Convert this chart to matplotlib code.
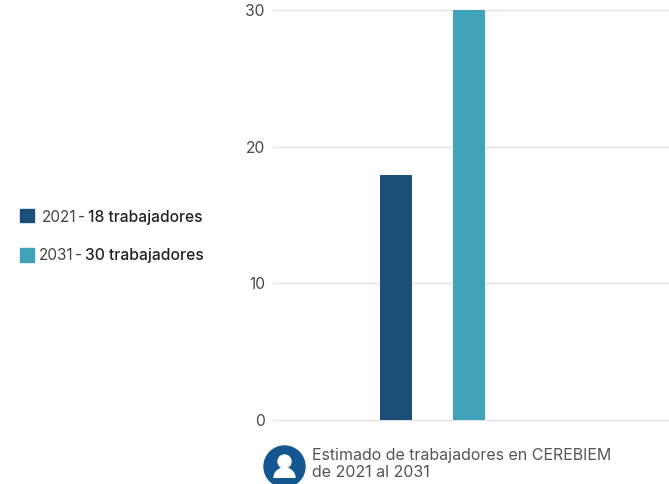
import matplotlib
matplotlib.use("Agg")
import matplotlib.pyplot as plt
from matplotlib.patches import Circle, Rectangle, Ellipse

categories = ["2021", "2031"]
trabajadores = [17.9, 30]
bar_colors = ["#1C4E7A", "#3FA2B8"]
y_ticks = [0, 10, 20, 30]
caption = "Estimado de trabajadores en CEREBIEM\nde 2021 al 2031"

W, H = 669, 484
plt.rcParams["font.family"] = ["Inter", "DejaVu Sans"]
fig = plt.figure(figsize=(W / 100, H / 100), dpi=100)
ax = fig.add_axes([273 / W, (H - 420) / H, (W - 273) / W, 410 / H])
ax.bar(range(len(categories)), trabajadores, width=0.438, color=bar_colors, zorder=3)
ax.set_xlim(-1.685, 3.74)
ax.set_ylim(0, 30)
ax.set_yticks(y_ticks)
ax.set_xticks([])
ax.grid(axis="y", color="#E3E3E3", lw=1)
ax.set_axisbelow(True)
for s in ax.spines.values():
    s.set_visible(False)
ax.tick_params(axis="y", length=0, pad=5.8, labelsize=11.3, labelcolor="#4A4A4A")
for g in ax.get_ygridlines():
    g.set_clip_on(False)

ov = fig.add_axes([0, 0, 1, 1], zorder=5)
ov.set_xlim(0, W)
ov.set_ylim(H, 0)
ov.axis("off")
ov.patch.set_alpha(0)

# legend
ov.add_patch(Rectangle((20, 208.5), 14, 13.5, color=bar_colors[0]))
ov.add_patch(Rectangle((20, 248), 13.5, 13.5, color=bar_colors[1]))
ov.text(41.5, 222, "2021", fontsize=11, color="#444444", va="baseline")
ov.text(78, 222, "-", fontsize=11, color="#444444", va="baseline")
ov.text(88, 222, "18 trabajadores", fontsize=11.2, color="#222222", va="baseline", weight="medium")
ov.text(38.5, 260, "2031", fontsize=11, color="#444444", va="baseline")
ov.text(75, 260, "-", fontsize=11, color="#444444", va="baseline")
ov.text(85, 260, "30 trabajadores", fontsize=11.3, color="#222222", va="baseline", weight="medium")

# caption and icon
ov.text(312.5, 464, caption, fontsize=11.5, color="#555555", va="center", linespacing=1.2)
ov.add_patch(Circle((284.5, 466.5), 20.5, color="#14568F"))
ov.add_patch(Circle((284.5, 461.5), 6.5, color="white"))
body = Ellipse((284.5, 478), 21, 20, color="white")
ov.add_patch(body)
body.set_clip_path(Rectangle((270, 466), 30, 11.5, transform=ov.transData))

fig.savefig("out.png", dpi=100, facecolor="white")
